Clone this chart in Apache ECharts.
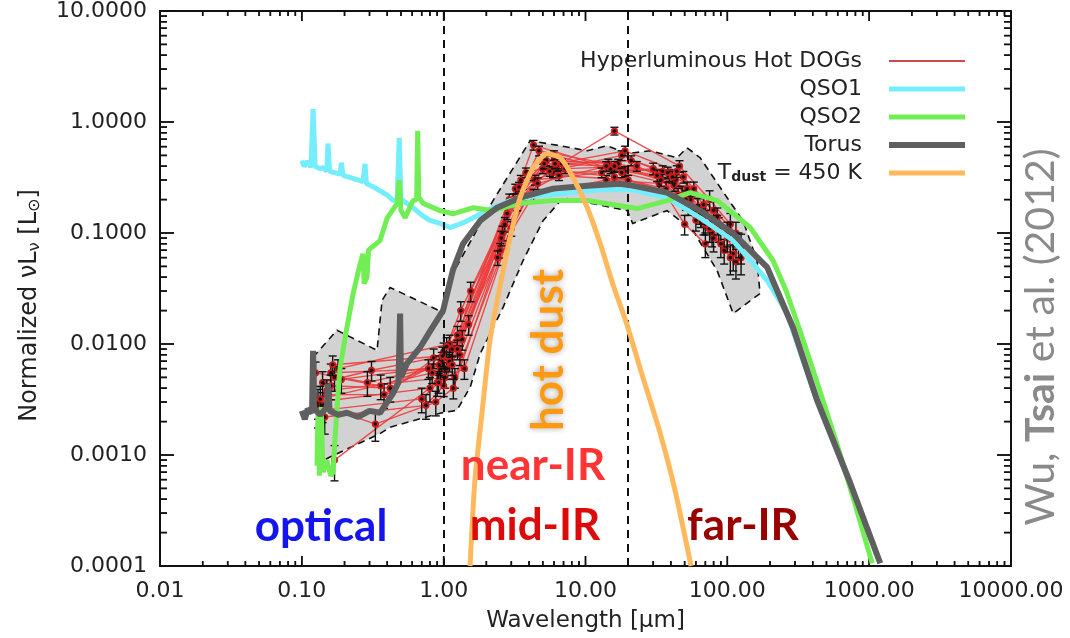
<!DOCTYPE html>
<html>
<head>
<meta charset="utf-8">
<script src="https://cdn.jsdelivr.net/npm/echarts@6/dist/echarts.min.js"></script>
<style>html,body{margin:0;padding:0;background:#fff}#c{width:1070px;height:638px}</style>
</head>
<body>
<div id="c"></div>
<script>
// ---------- tick labels ----------
const xTickValues = [0.01, 0.1, 1, 10, 100, 1000, 10000];
const xTickLabels = ['0.01', '0.10', '1.00', '10.00', '100.00', '1000.00', '10000.00'];
const yTickValues = [0.0001, 0.001, 0.01, 0.1, 1, 10];
const yTickLabels = ['0.0001', '0.0010', '0.0100', '0.1000', '1.0000', '10.0000'];

// ---------- template curves [wavelength um, normalized nuLnu] ----------
const qso1 = [[0.100,0.45],[0.104,0.40],[0.110,0.44],[0.116,0.39],[0.120,1.31],[0.124,0.40],[0.135,0.38],[0.141,0.39],[0.150,0.36],[0.153,0.64],[0.157,0.36],[0.170,0.35],[0.186,0.34],[0.190,0.43],[0.195,0.33],[0.230,0.31],[0.270,0.29],[0.279,0.42],[0.285,0.28],[0.320,0.26],[0.356,0.24],[0.400,0.22],[0.440,0.196],[0.470,0.20],[0.486,0.72],[0.500,0.20],[0.517,0.196],[0.608,0.169],[0.700,0.145],[0.800,0.13],[0.943,0.122],[1.11,0.112],[1.40,0.125],[2.02,0.159],[2.94,0.196],[4.56,0.217],[7.79,0.231],[13.3,0.246],[21.5,0.245],[37.6,0.208],[64.3,0.137],[110,0.0855],[152,0.053],[191,0.0373],[264,0.0188],[430,0.0030],[735,0.00055],[1197,0.000106]];

const qso2 = [[0.128,0.0008],[0.130,0.0026],[0.133,0.00065],[0.137,0.0027],[0.141,0.0007],[0.150,0.0009],[0.160,0.00065],[0.166,0.0007],[0.172,0.0015],[0.180,0.0035],[0.186,0.0061],[0.208,0.0141],[0.230,0.0285],[0.255,0.05],[0.270,0.065],[0.275,0.035],[0.288,0.04],[0.295,0.07],[0.356,0.0855],[0.400,0.137],[0.469,0.184],[0.487,0.30],[0.500,0.16],[0.535,0.137],[0.608,0.196],[0.645,0.20],[0.656,0.834],[0.668,0.21],[0.716,0.185],[0.943,0.159],[1.16,0.149],[1.62,0.169],[2.23,0.159],[3.46,0.185],[5.91,0.196],[10.3,0.196],[17.5,0.176],[23.1,0.166],[37.6,0.196],[54.7,0.231],[84.7,0.196],[145,0.112],[210,0.0565],[260,0.03],[330,0.0125],[430,0.0045],[600,0.0012],[800,0.00035],[1050,0.000106]];

const torus = [[0.100,0.0025],[0.105,0.0021],[0.110,0.0026],[0.118,0.0024],[0.120,0.0087],[0.122,0.0026],[0.135,0.0023],[0.150,0.0027],[0.153,0.0044],[0.157,0.0025],[0.180,0.0023],[0.208,0.0024],[0.250,0.0022],[0.300,0.0025],[0.356,0.0024],[0.400,0.0030],[0.440,0.0036],[0.480,0.0045],[0.493,0.0188],[0.500,0.0050],[0.552,0.0067],[0.682,0.0093],[0.800,0.013],[0.990,0.02],[1.16,0.046],[1.37,0.080],[1.81,0.129],[2.38,0.169],[3.46,0.208],[5.91,0.251],[10.3,0.267],[17.5,0.278],[21.5,0.267],[37.6,0.231],[64.3,0.159],[110,0.099],[191,0.049],[291,0.014],[430,0.0031],[735,0.00056],[1197,0.000106]];

const hotDust450K = [[1.535,0.0001],[1.66,0.00059],[1.87,0.0025],[2.12,0.0108],[2.5,0.0337],[2.94,0.091],[3.46,0.208],[4.27,0.387],[5.36,0.518],[6.62,0.477],[8.18,0.315],[10.3,0.169],[12.7,0.0803],[15.7,0.0337],[19.7,0.0147],[24.3,0.0060],[33.6,0.00157],[42.8,0.00048],[55.5,0.0001]];

// ---------- Hot DOG SEDs [wavelength, value, fractional error] ----------
const sed01 = [[0.14,0.0045,0.25],[0.31,0.0058,0.2],[0.85,0.0075,0.2],[1.15,0.009,0.15],[2.9,0.2,0.12],[5.3,0.45,0.1],[17,0.42,0.1],[39,0.33,0.12],[62,0.17,0.2],[87,0.11,0.25],[125,0.06,0.3]];
const sed02 = [[0.16,0.0055,0.2],[0.95,0.006,0.2],[1.25,0.012,0.2],[3.2,0.25,0.1],[5.9,0.35,0.1],[19,0.36,0.1],[43,0.3,0.12],[70,0.15,0.2]];
const sed03 = [[0.13,0.003,0.3],[0.8,0.004,0.25],[1.05,0.006,0.2],[2.7,0.12,0.15],[4.3,0.62,0.1],[15,0.38,0.1],[35,0.36,0.12],[55,0.2,0.2],[80,0.09,0.25],[115,0.055,0.3]];
const sed04 = [[0.17,0.0009,0.35],[0.9,0.0045,0.25],[1.2,0.005,0.2],[3.0,0.11,0.15],[5.0,0.38,0.1],[16,0.32,0.1],[37,0.25,0.15],[60,0.13,0.2],[90,0.08,0.25]];
const sed05 = [[0.15,0.0035,0.25],[0.38,0.0035,0.25],[1.0,0.0085,0.2],[1.35,0.011,0.2],[3.5,0.3,0.1],[6.3,0.4,0.1],[16,0.83,0.08],[46,0.4,0.12],[75,0.2,0.2],[105,0.12,0.25]];
const sed06 = [[0.14,0.0028,0.3],[0.33,0.0019,0.3],[0.88,0.003,0.25],[1.17,0.004,0.2],[2.5,0.07,0.15],[4.3,0.22,0.12],[14,0.3,0.1],[33,0.28,0.12],[50,0.12,0.2],[70,0.08,0.25]];
const sed07 = [[0.18,0.006,0.2],[1.1,0.01,0.2],[1.5,0.015,0.2],[3.8,0.35,0.1],[6.8,0.42,0.1],[21,0.45,0.1],[49,0.32,0.12],[80,0.16,0.2],[115,0.1,0.25]];
const sed08 = [[0.13,0.0025,0.3],[0.7,0.0032,0.25],[0.92,0.0045,0.2],[2.4,0.06,0.15],[4.4,0.3,0.1],[13,0.35,0.1],[30,0.38,0.12],[48,0.22,0.2],[68,0.12,0.2],[95,0.07,0.25]];
const sed09 = [[0.16,0.0042,0.25],[0.42,0.004,0.25],[0.97,0.007,0.2],[1.3,0.008,0.2],[3.3,0.18,0.12],[6.0,0.5,0.1],[18,0.35,0.1],[42,0.27,0.12],[65,0.14,0.2],[100,0.09,0.25]];
const sed10 = [[0.15,0.0038,0.25],[1.02,0.005,0.2],[1.4,0.006,0.2],[3.6,0.22,0.12],[6.5,0.33,0.1],[20,0.3,0.1],[45,0.22,0.15],[70,0.12,0.2],[110,0.065,0.3]];
const sed11 = [[0.135,0.0032,0.3],[0.83,0.0055,0.2],[1.1,0.007,0.2],[2.8,0.15,0.12],[5.1,0.42,0.1],[16,0.4,0.1],[38,0.35,0.12],[58,0.25,0.15],[85,0.14,0.2],[120,0.08,0.25]];
const sed12 = [[0.17,0.005,0.25],[0.36,0.0042,0.25],[0.93,0.0065,0.2],[1.25,0.009,0.2],[3.1,0.2,0.12],[5.6,0.36,0.1],[18,0.5,0.1],[41,0.32,0.12],[64,0.15,0.2]];
const sed13 = [[0.125,0.0055,0.25],[0.29,0.0045,0.25],[0.78,0.006,0.2],[1.05,0.0095,0.2],[2.6,0.1,0.15],[4.7,0.55,0.1],[14.5,0.42,0.1],[34,0.3,0.12],[53,0.18,0.2],[78,0.1,0.25]];
const sed14 = [[0.19,0.0048,0.25],[1.15,0.0065,0.2],[1.55,0.03,0.2],[4.0,0.33,0.1],[7.2,0.38,0.1],[23,0.4,0.1],[52,0.25,0.15],[85,0.12,0.2],[125,0.075,0.3]];
const sed15 = [[0.145,0.0022,0.3],[0.75,0.0028,0.25],[1.0,0.0042,0.2],[2.55,0.09,0.15],[4.6,0.28,0.12],[14,0.4,0.1],[32,0.33,0.12],[51,0.2,0.2],[75,0.11,0.25],[105,0.06,0.3]];
const sed16 = [[0.165,0.0065,0.2],[0.98,0.0078,0.2],[1.32,0.02,0.2],[3.4,0.26,0.1],[6.1,0.42,0.1],[19,0.55,0.1],[44,0.36,0.12],[68,0.18,0.2],[100,0.1,0.25]];
const hotDogSeds = [sed01, sed02, sed03, sed04, sed05, sed06, sed07, sed08, sed09, sed10, sed11, sed12, sed13, sed14, sed15, sed16];

// ---------- envelope of Hot DOG SEDs (closed polygon) ----------
const envelope = [[0.12,0.0076],[0.177,0.0133],[0.339,0.00876],[0.368,0.0247],[0.419,0.0323],[0.99,0.0192],[1.16,0.0432],[2.23,0.196],[4.07,0.678],[6.62,0.611],[10.3,0.551],[14.2,0.611],[19.7,0.518],[28.6,0.551],[44.3,0.477],[52,0.586],[64.3,0.477],[99.7,0.208],[129,0.129],[162,0.0565],[170,0.0285],[110,0.0188],[84.7,0.0459],[57.4,0.105],[37.6,0.159],[21.5,0.122],[19.7,0.159],[6.95,0.208],[5.02,0.129],[3.63,0.0565],[2.62,0.0213],[1.81,0.0082],[1.54,0.0041],[1.24,0.00253],[0.943,0.00238],[0.419,0.00178],[0.356,0.00156],[0.158,0.00096],[0.141,0.00089],[0.134,0.0011]];

const regionLines = [1, 20];

// ---------- build ----------
const HOT = 'Hyperluminous Hot DOGs';
const TD = 'T_dust = 450 K';
const FONT = 'DejaVu Sans';

function fmtX(v){ const i = xTickValues.findIndex(t => Math.abs(Math.log10(t) - Math.log10(v)) < 1e-6); return i >= 0 ? xTickLabels[i] : ''; }
function fmtY(v){ const i = yTickValues.findIndex(t => Math.abs(Math.log10(t) - Math.log10(v)) < 1e-6); return i >= 0 ? yTickLabels[i] : ''; }

// items: [x, y, errOrLen, kind]; kind 0 = data point with error bar,
// 1/2 = x tick bottom/top, 3/4 = y tick left/right (major at decades, minor at 2..9)
const markItems = [];
hotDogSeds.forEach(s => s.forEach(p => markItems.push([p[0], p[1], p[2], 0])));
xTickValues.forEach((d, i) => {
  markItems.push([d, 1, 10, 1]); markItems.push([d, 1, 10, 2]);
  if (i < xTickValues.length - 1) for (let k = 2; k <= 9; k++) { markItems.push([d * k, 1, 5, 1]); markItems.push([d * k, 1, 5, 2]); }
});
yTickValues.forEach((d, i) => {
  markItems.push([1, d, 14, 3]); markItems.push([1, d, 14, 4]);
  if (i < yTickValues.length - 1) for (let k = 2; k <= 9; k++) { markItems.push([1, d * k, 7, 3]); markItems.push([1, d * k, 7, 4]); }
});

function axX(pos, extra) {
  return Object.assign({
    type: 'log', logBase: 10, min: 0.01, max: 10000, position: pos,
    axisLine: { show: true, lineStyle: { color: '#111', width: 2 } },
    axisTick: { show: false }, minorTick: { show: false }, splitLine: { show: false }
  }, extra);
}
function axY(pos, extra) {
  return Object.assign({
    type: 'log', logBase: 10, min: 0.0001, max: 10, position: pos,
    axisLine: { show: true, lineStyle: { color: '#111', width: 2 } },
    axisTick: { show: false }, minorTick: { show: false }, splitLine: { show: false }
  }, extra);
}

const series = [];
series.push({
  type: 'custom', name: 'envelope', z: 1, silent: true,
  data: envelope,
  encode: { x: 0, y: 1 },
  renderItem: function (params, api) {
    if (params.dataIndex !== 0) return null;
    const pts = envelope.map(d => api.coord(d));
    return { type: 'polygon', shape: { points: pts },
      style: { fill: '#d2d2d2', stroke: '#111', lineWidth: 1.6, lineDash: [7, 5] } };
  }
});
hotDogSeds.forEach(s => {
  series.push({
    type: 'line', name: HOT, z: 2, symbol: 'none', silent: true,
    data: s.map(p => [p[0], p[1]]),
    lineStyle: { color: '#ee3b3b', width: 1.4, opacity: 0.9 },
    itemStyle: { color: '#c83232' }
  });
});
series.push({
  type: 'custom', name: 'errors', z: 3, silent: true,
  data: markItems,
  encode: { x: 0, y: 1 },
  renderItem: function (params, api) {
    const kind = api.value(3);
    const cs = params.coordSys;
    if (kind === 1 || kind === 2) {
      const px = api.coord([api.value(0), 1])[0];
      const len = api.value(2);
      const y0 = kind === 1 ? cs.y + cs.height : cs.y;
      const y1 = kind === 1 ? y0 - len : y0 + len;
      return { type: 'line', shape: { x1: px, y1: y0, x2: px, y2: y1 }, style: { stroke: '#111', lineWidth: 1.5 } };
    }
    if (kind === 3 || kind === 4) {
      const py = api.coord([1, api.value(1)])[1];
      const len = api.value(2);
      const x0 = kind === 3 ? cs.x : cs.x + cs.width;
      const x1 = kind === 3 ? x0 + len : x0 - len;
      return { type: 'line', shape: { x1: x0, y1: py, x2: x1, y2: py }, style: { stroke: '#111', lineWidth: 1.5 } };
    }
    const x = api.value(0), y = api.value(1), e = api.value(2);
    const p = api.coord([x, y]);
    const lo = api.coord([x, y * (1 - e)]);
    const hi = api.coord([x, y * (1 + e)]);
    return { type: 'group', children: [
      { type: 'line', shape: { x1: p[0], y1: lo[1], x2: p[0], y2: hi[1] }, style: { stroke: '#111', lineWidth: 1.4 } },
      { type: 'line', shape: { x1: p[0] - 4, y1: lo[1], x2: p[0] + 4, y2: lo[1] }, style: { stroke: '#111', lineWidth: 1.4 } },
      { type: 'line', shape: { x1: p[0] - 4, y1: hi[1], x2: p[0] + 4, y2: hi[1] }, style: { stroke: '#111', lineWidth: 1.4 } },
      { type: 'circle', shape: { cx: p[0], cy: p[1], r: 3.6 }, style: { fill: '#cc1a1a' } },
      { type: 'circle', shape: { cx: p[0], cy: p[1], r: 1.8 }, style: { fill: '#111' } }
    ]};
  }
});
series.push({
  type: 'line', name: 'QSO1', z: 4, symbol: 'none', silent: true, data: qso1,
  lineStyle: { color: '#74eefc', width: 5 }, itemStyle: { color: '#74eefc' }
});
series.push({
  type: 'line', name: 'QSO2', z: 5, symbol: 'none', silent: true, data: qso2,
  lineStyle: { color: '#72ee55', width: 5 }, itemStyle: { color: '#72ee55' }
});
series.push({
  type: 'line', name: 'Torus', z: 6, symbol: 'none', silent: true, data: torus,
  lineStyle: { color: '#5f5f5f', width: 6 }, itemStyle: { color: '#5f5f5f' },
  markLine: {
    silent: true, symbol: 'none', label: { show: false },
    lineStyle: { color: '#111', type: [8, 6], width: 2 },
    data: regionLines.map(v => ({ xAxis: v }))
  }
});
series.push({
  type: 'line', name: TD, z: 7, symbol: 'none', silent: true, smooth: 0.2, data: hotDust450K,
  lineStyle: { color: '#ffb85c', width: 5 }, itemStyle: { color: '#ffb85c' }
});

function textGraphics() {
  return [
    { type: 'text', x: 321, y: 527, silent: true, z: 50,
      style: { text: 'optical', fill: '#1414ee', font: 'bold 44px Lato', align: 'center', verticalAlign: 'middle' } },
    { type: 'text', x: 533, y: 466, silent: true, z: 50,
      style: { text: 'near-IR', fill: '#ff3434', font: 'bold 44px Lato', align: 'center', verticalAlign: 'middle' } },
    { type: 'text', x: 535, y: 526, silent: true, z: 50,
      style: { text: 'mid-IR', fill: '#dd0a0a', font: 'bold 44px Lato', align: 'center', verticalAlign: 'middle' } },
    { type: 'text', x: 743, y: 526, silent: true, z: 50,
      style: { text: 'far-IR', fill: '#990000', font: 'bold 44px Lato', align: 'center', verticalAlign: 'middle' } },
    { type: 'text', x: 549, y: 350, rotation: Math.PI / 2, silent: true, z: 50,
      style: { text: 'hot dust', fill: '#ff9a10', font: 'bold 44px Lato', align: 'center', verticalAlign: 'middle',
        textShadowColor: 'rgba(0,0,0,0.35)', textShadowBlur: 6 } },
    { type: 'text', x: 1041, y: 337, rotation: Math.PI / 2, silent: true, z: 50,
      style: { text: '{n|Wu, }{b|Tsai}{n| et al. (2012)}', align: 'center', verticalAlign: 'middle',
        rich: { n: { font: '41px Lato', fill: '#8a8a8a' }, b: { font: 'bold 41px Lato', fill: '#8a8a8a' } } } }
  ];
}

const chart = echarts.init(document.getElementById('c'), null, { renderer: 'canvas' });
chart.setOption({
  animation: false,
  backgroundColor: '#fff',
  grid: { left: 160, right: 59, top: 10, bottom: 72, containLabel: false },
  legend: {
    orient: 'vertical', align: 'right', right: 97, top: 45,
    itemWidth: 76, itemHeight: 14, itemGap: 6,
    selectedMode: false,
    itemStyle: { opacity: 0 },
    lineStyle: { width: 'inherit' },
    data: [
      { name: HOT, lineStyle: { width: 2, color: '#c83737' } },
      { name: 'QSO1' }, { name: 'QSO2' }, { name: 'Torus' }, { name: TD }
    ],
    formatter: function (n) { return n === TD ? '{t|T}{s|dust}{t| = 450 K}' : n; },
    textStyle: {
      fontFamily: FONT, fontSize: 22, color: '#222', lineHeight: 21, padding: [0, 22, 0, 0],
      rich: {
        t: { fontFamily: FONT, fontSize: 22, color: '#222', lineHeight: 21 },
        s: { fontFamily: FONT, fontSize: 14, fontWeight: 'bold', color: '#222', padding: [8, 0, 0, 0], lineHeight: 21 }
      }
    }
  },
  xAxis: [
    axX('bottom', {
      name: 'Wavelength [µm]', nameLocation: 'middle', nameGap: 44,
      nameTextStyle: { fontFamily: FONT, fontSize: 23, color: '#222' },
      axisLabel: { show: true, margin: 14, fontFamily: FONT, fontSize: 22, color: '#222', formatter: fmtX }
    }),
    axX('top', { axisLabel: { show: false } })
  ],
  yAxis: [
    axY('left', {
      name: '{a|Normalized ν}{a|L}{s|ν}{a| [L}{s|⊙}{a|]}', nameLocation: 'middle', nameGap: 117,
      nameTextStyle: {
        fontFamily: FONT, fontSize: 24, color: '#222', padding: [0, 34, 0, 0],
        rich: {
          a: { fontFamily: FONT, fontSize: 24, color: '#222' },
          s: { fontFamily: FONT, fontSize: 16, color: '#222', padding: [10, 0, 0, 0] }
        }
      },
      axisLabel: { show: true, margin: 13, fontFamily: FONT, fontSize: 22, color: '#222', formatter: fmtY }
    }),
    axY('right', { axisLabel: { show: false } })
  ],
  graphic: { elements: textGraphics() },
  series: series
});

// second pass: frame ticks also as graphic lines, positioned by the axes' own scales
try {
  const yB = chart.convertToPixel({ yAxisIndex: 0 }, yTickValues[0]);
  const yT = chart.convertToPixel({ yAxisIndex: 0 }, yTickValues[yTickValues.length - 1]);
  const xL = chart.convertToPixel({ xAxisIndex: 0 }, xTickValues[0]);
  const xR = chart.convertToPixel({ xAxisIndex: 0 }, xTickValues[xTickValues.length - 1]);
  const els = textGraphics();
  const addX = (v, len) => {
    const px = chart.convertToPixel({ xAxisIndex: 0 }, v);
    els.push({ type: 'line', shape: { x1: px, y1: yB, x2: px, y2: yB - len }, style: { stroke: '#111', lineWidth: 1.5 } });
    els.push({ type: 'line', shape: { x1: px, y1: yT, x2: px, y2: yT + len }, style: { stroke: '#111', lineWidth: 1.5 } });
  };
  const addY = (v, len) => {
    const py = chart.convertToPixel({ yAxisIndex: 0 }, v);
    els.push({ type: 'line', shape: { x1: xL, y1: py, x2: xL + len, y2: py }, style: { stroke: '#111', lineWidth: 1.5 } });
    els.push({ type: 'line', shape: { x1: xR, y1: py, x2: xR - len, y2: py }, style: { stroke: '#111', lineWidth: 1.5 } });
  };
  xTickValues.forEach((d, i) => {
    addX(d, 10);
    if (i < xTickValues.length - 1) for (let k = 2; k <= 9; k++) addX(d * k, 5);
  });
  yTickValues.forEach((d, i) => {
    addY(d, 14);
    if (i < yTickValues.length - 1) for (let k = 2; k <= 9; k++) addY(d * k, 7);
  });
  chart.setOption({ graphic: { elements: els } });
} catch (e) { /* ignore */ }
</script>
</body>
</html>
